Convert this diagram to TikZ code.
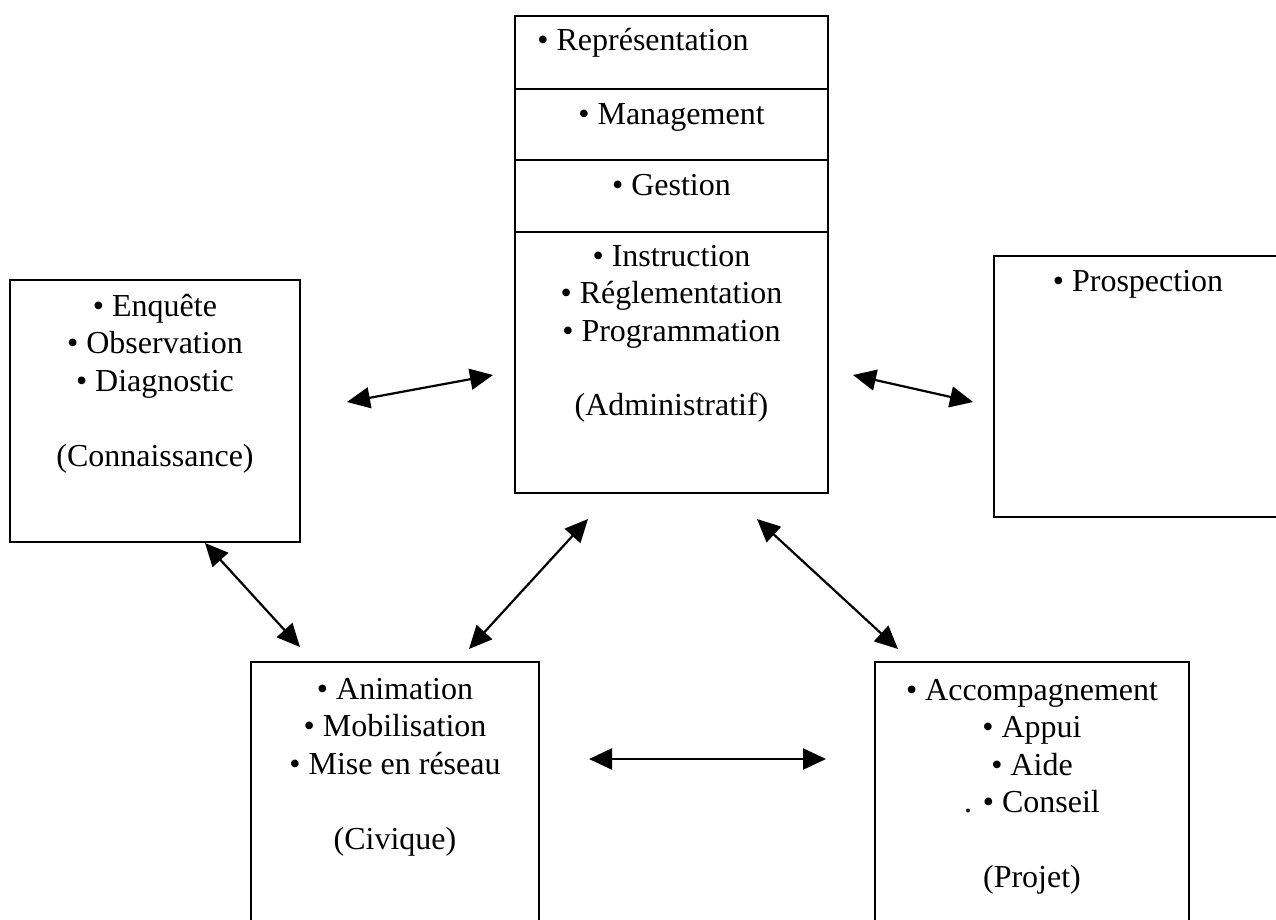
\documentclass[tikz,border=0pt]{standalone}
\usepackage{fontspec}
\setmainfont{Liberation Serif}
\usepackage{tikz}
\usetikzlibrary{arrows.meta,positioning,calc}

\begin{document}
\begin{tikzpicture}[x=0.5pt,y=-0.5pt,
  box/.style={draw,line width=1.1pt,rectangle,inner sep=0pt,outer sep=0pt,anchor=north west},
  admbox/.style={box,minimum width=156.5pt},
  txt/.style={inner sep=0pt,anchor=base,font=\fontsize{16}{18.75}\selectfont},
  link/.style={{Triangle[length=11.5pt,width=10.5pt]}-{Triangle[length=11.5pt,width=10.5pt]},line width=1.1pt}]
\useasboundingbox (0,0) rectangle (1276,920);
\clip (0,0) rectangle (1276,920);

% boxes
\node[box,minimum width=145pt,minimum height=131pt] (conn) at (10,280) {};
\node[admbox,minimum height=36.5pt] (repr) at (515,16) {};
\node[admbox,minimum height=35.5pt,below=0pt of repr] (mgmt) {};
\node[admbox,minimum height=36pt,below=0pt of mgmt] (gest) {};
\node[admbox,minimum height=130.5pt,below=0pt of gest] (admin) {};
\node[box,minimum width=144pt,minimum height=130.5pt] (prosp) at (994,256) {};
\node[box,minimum width=144pt,minimum height=150pt] (civ) at (251,662) {};
\node[box,minimum width=157pt,minimum height=150pt] (proj) at (875,662) {};

% texts
\node[txt] (conn-txt) at ([yshift=-18pt]conn.north) {\begin{tabular}[t]{@{}c@{}}
• Enquête\\ • Observation\\ • Diagnostic\\ \\ (Connaissance)\end{tabular}};
\node[txt,anchor=base west] (repr-txt) at ([xshift=11pt,yshift=-17.5pt]repr.north west) {• Représentation};
\node[txt] (mgmt-txt) at ([yshift=-18pt]mgmt.north) {• Management};
\node[txt] (gest-txt) at ([yshift=-18pt]gest.north) {• Gestion};
\node[txt] (admin-txt) at ([yshift=-17pt]admin.north) {\begin{tabular}[t]{@{}c@{}}
• Instruction\\ • Réglementation\\ • Programmation\\ \\ (Administratif)\end{tabular}};
\node[txt] (prosp-txt) at ([yshift=-18pt]prosp.north) {• Prospection};
\node[txt] (civ-txt) at ([yshift=-18.5pt]civ.north) {\begin{tabular}[t]{@{}c@{}}
• Animation\\ • Mobilisation\\ • Mise en réseau\\ \\ (Civique)\end{tabular}};
\node[txt] (proj-txt) at ([yshift=-19pt]proj.north) {\begin{tabular}[t]{@{}c@{}}
• Accompagnement\\ • Appui\\ • Aide\\ . • Conseil\\ \\ (Projet)\end{tabular}};

% arrow ends
\coordinate (c-a) at (347,402);  \coordinate (a-c) at (493,375);
\coordinate (a-p) at (853,375);  \coordinate (p-a) at (973,402);
\coordinate (c-v) at (205,543);  \coordinate (v-c) at (300,647);
\coordinate (v-a) at (469,649);  \coordinate (a-v) at (588,519);
\coordinate (a-j) at (757,519);  \coordinate (j-a) at (898,649);
\coordinate (v-j) at (589,759);  \coordinate (j-v) at (826,759);

\draw[link] (c-a) -- (a-c);
\draw[link] (a-p) -- (p-a);
\draw[link] (c-v) -- (v-c);
\draw[link] (v-a) -- (a-v);
\draw[link] (a-j) -- (j-a);
\draw[link] (v-j) -- (j-v);
\end{tikzpicture}
\end{document}
